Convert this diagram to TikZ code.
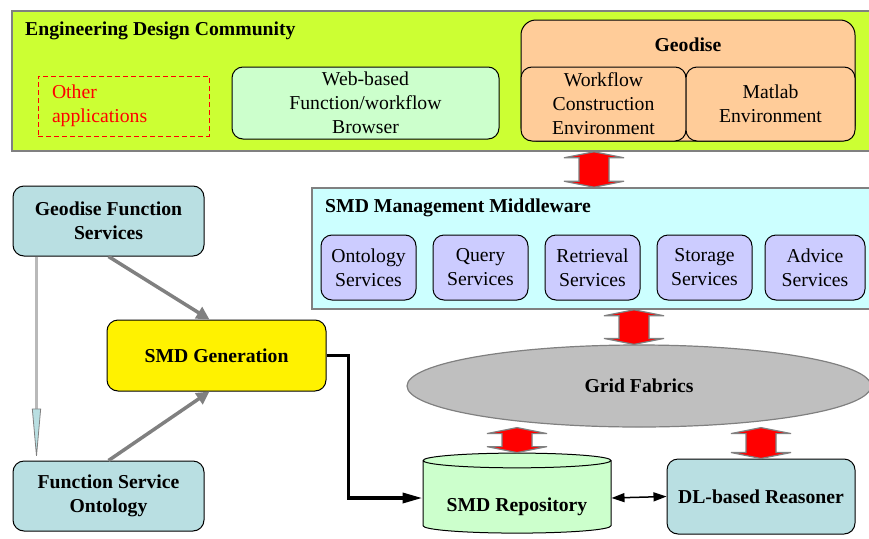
\documentclass[tikz,border=0pt]{standalone}
\usepackage{fontspec}
\setmainfont{Liberation Serif}
\usepackage{tikz}
\usetikzlibrary{arrows.meta,positioning,calc,shapes.geometric}
\definecolor{edcgreen}{HTML}{CCFF33}
\definecolor{mint}{HTML}{CCFFCC}
\definecolor{peach}{HTML}{FFCC99}
\definecolor{aqua}{HTML}{CCFFFF}
\definecolor{lilac}{HTML}{CCCCFF}
\definecolor{paleteal}{HTML}{B9DFE2}
\definecolor{edge}{HTML}{808080}
% two-headed block arrow, #1 = upper tip, #2 = lower tip
\newcommand{\blockarrow}[2]{\path[blockarrow] let \p1=#1,\p2=#2 in (\x1,\y1)--++(30pt,-6pt)--++(-15pt,0pt)--(\x1+15pt,\y2+6pt)--++(15pt,0pt)--(\x1,\y2)--(\x1-30pt,\y2+6pt)--++(15pt,0pt)--(\x1-15pt,\y1-6pt)--++(-15pt,0pt)--cycle;}

\begin{document}
\begin{tikzpicture}[x=1pt,y=-1pt,node distance=16pt,every node/.style={font=\fontsize{19.7}{24}\selectfont,align=center},bold/.style={font=\fontsize{19.7}{24}\selectfont\bfseries},panel/.style={draw=edge,line width=1.6pt,inner sep=0pt},box/.style={draw,line width=1pt,rounded corners=11pt,inner sep=0pt},svc/.style={box,fill=lilac,minimum width=95pt,minimum height=65pt},title/.style={bold,anchor=west,inner sep=0pt},blockarrow/.style={fill=red,draw=edge,line width=1.2pt},fatgray/.style={draw=edge,line width=3.5pt,-{Triangle[length=13pt,width=13pt]}}]
\useasboundingbox (0,0) rectangle (869,538);
\node[panel,fill=edcgreen,minimum width=858pt,minimum height=140pt] (edc) at (441,81) {};
\node[title] (edctitle) at (25,31) {Engineering Design Community};
\node[draw=red,dash pattern=on 5pt off 3pt,line width=1pt,minimum height=60pt,text width=143pt,inner xsep=14pt,align=left,text=red] (other) at (123.5,106) {Other\\applications};
\node[box,fill=mint,minimum width=267pt,minimum height=72pt] (web) at (365.5,103) {Web-based\\Function/workflow\\Browser};
\node[box,fill=peach,rounded corners=15pt,minimum width=334pt,minimum height=121pt] (geodise) at (688,80.5) {};
\node[bold] (geotitle) at (688,45) {Geodise};
\node[box,fill=peach,minimum width=165pt,minimum height=74pt] (wce) at (603.5,104) {Workflow\\Construction\\Environment};
\node[box,fill=peach,minimum width=169pt,minimum height=74pt] (matlab) at (770.5,104) {Matlab\\Environment};

\node[panel,fill=aqua,minimum width=558pt,minimum height=121pt] (mw) at (591,248.5) {};
\node[title] (mwtitle) at (325,208) {SMD Management Middleware};
\node[svc] (onto) at (368.5,267.5) {Ontology\\Services};
\node[svc,right=of onto] (query) {Query\\Services};
\node[svc,right=of query] (retr) {Retrieval\\Services};
\node[svc,right=of retr] (store) {Storage\\Services};
\node[svc,right=12pt of store,minimum width=100pt] (advice) {Advice\\Services};

\node[ellipse,draw=edge,line width=1.2pt,fill=gray!50,minimum width=464pt,minimum height=82pt,bold] (grid) at (639,386) {Grid Fabrics};
\node[cylinder,shape border rotate=90,aspect=0.1,draw,line width=1pt,fill=mint,minimum width=188pt,minimum height=80pt,bold] (repo) at (517,498) {\rule{0pt}{31pt}SMD Repository};
\node[box,fill=paleteal,minimum width=188pt,minimum height=75pt,bold] (dl) at (761,496.5) {DL-based Reasoner};

\node[box,fill=paleteal,minimum width=191pt,minimum height=70pt,bold] (gfs) at (108.5,221) {Geodise Function\\Services};
\node[box,fill=yellow,minimum width=219pt,minimum height=71pt,bold] (gen) at (216.5,355.5) {SMD Generation};
\node[box,fill=paleteal,minimum width=191pt,minimum height=70pt,bold] (fso) at (108.5,496) {Function Service\\Ontology};

\blockarrow{(594,0 |- edc.south)}{(594,0 |- mw.north)}
\blockarrow{(634,0 |- mw.south)}{(634,0 |- grid.north)}
\blockarrow{(grid.south -| repo.north)}{(repo.north)}
\blockarrow{(grid.south -| dl.north)}{(dl.north)}

\draw[gray!55,line width=2.5pt,-{Triangle[length=52pt,width=9pt,fill=paleteal,color=edge,line width=0.8pt]}] ([xshift=24pt]gfs.south west)--([xshift=24pt]fso.north west);
\draw[fatgray] (gfs.south)--([xshift=-7pt]gen.north);
\draw[fatgray] (fso.north)--([xshift=-7pt]gen.south);
\draw[line width=3.5pt,-{Triangle[length=20pt,width=10pt]}] (gen.east)--++(22,0)|-(repo.west);
\draw[line width=1.5pt,{Triangle[length=13pt,width=9pt]}-{Triangle[length=13pt,width=9pt]}] (repo.east)--(dl.west);
\end{tikzpicture}
\end{document}
